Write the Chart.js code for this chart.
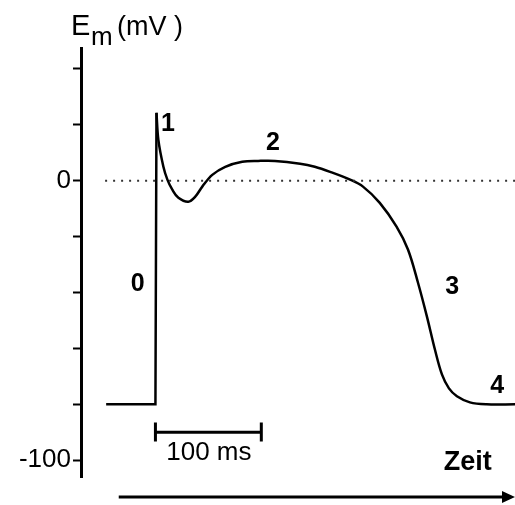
<!DOCTYPE html>
<html>
<head>
<meta charset="utf-8">
<script src="https://cdn.jsdelivr.net/npm/chart.js@4.4.0/dist/chart.umd.min.js"></script>
<style>
	html, body { margin: 0; padding: 0; background: #fff; }
	#wrap { width: 515px; height: 505px; }
</style>
</head>
<body>
<div id="wrap"><canvas id="chart"></canvas></div>
<script>
// Action potential (time in ms, membrane potential in mV)

// phase 4 rest + phase 0 upstroke (straight lines)
const upTime = [-46, 1, 2];
const upVolt = [-80, -80, 24.3];

// phases 1-4 (smooth curve)
const apTime = [2, 3.8, 8.6, 12.4, 17.1, 22.9, 32.4, 39, 45.7, 55.2, 67.6, 83.8, 99, 115, 139, 153, 167.6, 186.7, 199, 215, 231, 241.9, 251.4, 260, 267.6, 274.3, 281, 288.6, 301, 317, 344];
const apVolt = [24.3, 14.6, 5, 0.4, -3.2, -6.1, -7.5, -5.7, -2.1, 2.1, 5, 6.8, 7.1, 7.1, 6.1, 5, 3.2, 0.4, -2.1, -7.9, -16.4, -24.6, -36.4, -48.6, -60.4, -69.3, -74.3, -77.1, -79.3, -80, -80];

const zeroLineTime = [-47, 344];
const zeroLineVolt = [0, 0];

// 100 ms scale bar
const barTime = [1, 102];
const barVolt = [-90, -90];
const capVolt = [-86.5, -93.3];

const yTickLabels = [0, -100];

const phaseLabels = ["0", "1", "2", "3", "4"];
const phaseTime = [-16, 13, 113, 284, 327];
const phaseVolt = [-37, 20.4, 13.6, -38, -73.6];

const toPoints = (xs, ys) => xs.map((x, i) => ({ x: x, y: ys[i] }));

const lineSet = (data, opts) => Object.assign({
	data: data,
	borderColor: "#000",
	borderWidth: 2.5,
	pointRadius: 0,
	fill: false,
	tension: 0,
}, opts);

const FONT = "'Liberation Sans', Arial, sans-serif";

const annotations = {
	id: "annotations",
	afterDraw(chart) {
		const ctx = chart.ctx;
		const xs = chart.scales.x;
		const ys = chart.scales.y;
		const left = chart.chartArea.left;
		ctx.save();
		ctx.fillStyle = "#000";

		// axis title E_m (mV)
		ctx.textBaseline = "alphabetic";
		ctx.textAlign = "left";
		ctx.font = `29px ${FONT}`;
		ctx.fillText("E", left - 10, 35);
		ctx.font = `26px ${FONT}`;
		ctx.fillText("m", left + 10, 45);
		ctx.font = `27px ${FONT}`;
		ctx.fillText("(mV )", left + 36, 35);

		// phase numbers
		ctx.textAlign = "center";
		ctx.textBaseline = "middle";
		ctx.font = `bold 25px ${FONT}`;
		phaseLabels.forEach((lab, i) => {
			ctx.fillText(lab, xs.getPixelForValue(phaseTime[i]), ys.getPixelForValue(phaseVolt[i]));
		});

		ctx.font = `26px ${FONT}`;
		ctx.fillText("100 ms", xs.getPixelForValue(52), ys.getPixelForValue(-97.5));

		ctx.font = `bold 27px ${FONT}`;
		ctx.fillText("Zeit", xs.getPixelForValue(299), ys.getPixelForValue(-100.7));

		// time arrow
		const ay = chart.chartArea.bottom + 20;
		const ax0 = xs.getPixelForValue(-34);
		const ax1 = chart.width;
		ctx.strokeStyle = "#000";
		ctx.lineWidth = 3;
		ctx.beginPath();
		ctx.moveTo(ax0, ay);
		ctx.lineTo(ax1 - 8, ay);
		ctx.stroke();
		ctx.beginPath();
		ctx.moveTo(ax1, ay);
		ctx.lineTo(ax1 - 13, ay - 6);
		ctx.lineTo(ax1 - 13, ay + 6);
		ctx.closePath();
		ctx.fill();
		ctx.restore();
	},
};

const ctx = document.getElementById("chart").getContext("2d");
const chart = new Chart(ctx, {
	type: "line",
	data: {
		datasets: [
			lineSet(toPoints(zeroLineTime, zeroLineVolt), { borderColor: "#333", borderWidth: 2, borderDash: [2, 6] }),
			lineSet(toPoints(upTime, upVolt), { borderJoinStyle: "miter" }),
			lineSet(toPoints(apTime, apVolt), { tension: 0.35 }),
			lineSet(toPoints(barTime, barVolt), { borderWidth: 3 }),
			lineSet(toPoints([barTime[0], barTime[0]], capVolt), { borderWidth: 3 }),
			lineSet(toPoints([barTime[1], barTime[1]], capVolt), { borderWidth: 3 }),
		],
	},
	options: {
		responsive: true,
		maintainAspectRatio: false,
		animation: false,
		events: [],
		layout: { padding: { top: 48, bottom: 28, right: 0, left: 0 } },
		plugins: {
			legend: { display: false },
			tooltip: { enabled: false },
		},
		scales: {
			x: {
				type: "linear",
				min: -70,
				max: 344,
				display: false,
			},
			y: {
				type: "linear",
				min: -106,
				max: 47.5,
				afterFit: (scale) => {
					scale.width = 81;
				},
				border: { display: true, color: "#000", width: 3 },
				grid: {
					display: true,
					drawOnChartArea: false,
					drawTicks: true,
					tickLength: 8,
					tickWidth: 2,
					tickColor: "#000",
				},
				ticks: {
					stepSize: 20,
					includeBounds: false,
					padding: 2,
					color: "#000",
					font: { family: FONT, size: 26 },
					callback: (v) => (yTickLabels.includes(v) ? String(v) : ""),
				},
			},
		},
	},
	plugins: [annotations],
});
</script>
</body>
</html>
